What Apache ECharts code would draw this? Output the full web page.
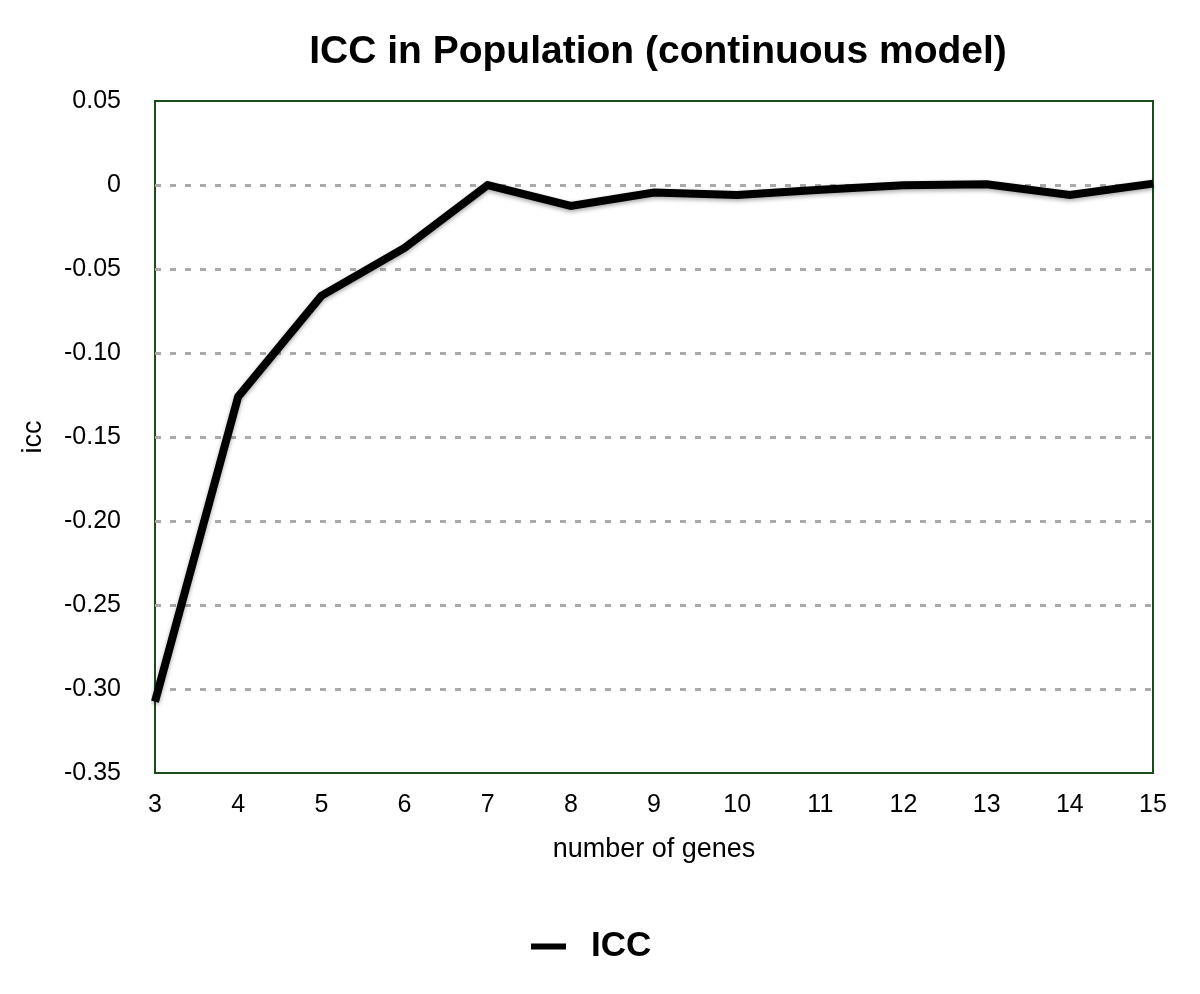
<!DOCTYPE html>
<html>
<head>
<meta charset="utf-8">
<script src="https://cdn.jsdelivr.net/npm/echarts@6/dist/echarts.min.js"></script>
<style>html,body{margin:0;padding:0;background:#fff}#c{width:1200px;height:994px}</style>
</head>
<body>
<div id="c"></div>
<script>
const categories = ['3','4','5','6','7','8','9','10','11','12','13','14','15'];
const icc = [-0.3075, -0.126, -0.066, -0.0375, 0.0, -0.0125, -0.0045, -0.006, -0.0028, -0.0002, 0.0005, -0.006, 0.0008];
const yTickLabels = {'0.05':'0.05','0':'0','-0.05':'-0.05','-0.1':'-0.10','-0.15':'-0.15','-0.2':'-0.20','-0.25':'-0.25','-0.3':'-0.30','-0.35':'-0.35'};

const font = '"Liberation Sans", Arial, Helvetica, sans-serif';
const chart = echarts.init(document.getElementById('c'));
chart.setOption({
  backgroundColor: '#fff',
  animation: false,
  title: {
    text: 'ICC in Population (continuous model)',
    left: 653, top: 28, textAlign: 'center',
    textStyle: {fontFamily: font, fontSize: 39, fontWeight: 'bold', color: '#000'}
  },
  legend: {
    data: ['ICC'],
    top: 929, left: 531, padding: 0,
    itemWidth: 35, itemHeight: 6, itemGap: 10,
    icon: 'rect',
    textStyle: {fontFamily: font, fontSize: 35, fontWeight: 'bold', color: '#000', padding: [0,0,0,20]}
  },
  grid: {left: 155, right: 47, top: 101, bottom: 221, show: true, borderColor: '#1b4a1b', borderWidth: 2, backgroundColor: 'transparent'},
  xAxis: {
    type: 'category', data: categories, boundaryGap: false,
    name: 'number of genes', nameLocation: 'middle', nameGap: 63,
    nameTextStyle: {fontFamily: font, fontSize: 27, color: '#000'},
    axisLine: {show: false}, axisTick: {show: false},
    axisLabel: {fontFamily: font, fontSize: 25, color: '#000', margin: 20},
    splitLine: {show: false}
  },
  yAxis: {
    type: 'value', min: -0.35, max: 0.05, interval: 0.05,
    name: 'icc', nameLocation: 'middle', nameGap: 108, nameRotate: 90,
    nameTextStyle: {fontFamily: font, fontSize: 27, color: '#000'},
    axisLine: {show: false}, axisTick: {show: false},
    axisLabel: {fontFamily: font, fontSize: 25, color: '#000', margin: 34, padding: [5,0,0,0],
      formatter: v => { const k = String(Math.round(v*100)/100); return yTickLabels[k] !== undefined ? yTickLabels[k] : k; }},
    splitLine: {show: true, showMinLine: false, showMaxLine: false, lineStyle: {color: '#aaaaaa', width: 3, type: [6, 9]}}
  },
  series: [{
    name: 'ICC', type: 'line', data: icc,
    symbol: 'none', smooth: false,
    lineStyle: {color: '#000', width: 8, shadowColor: 'rgba(0,0,0,0.35)', shadowBlur: 4, shadowOffsetY: 2, join: 'miter'},
    itemStyle: {color: '#000'}
  }]
});
</script>
</body>
</html>
